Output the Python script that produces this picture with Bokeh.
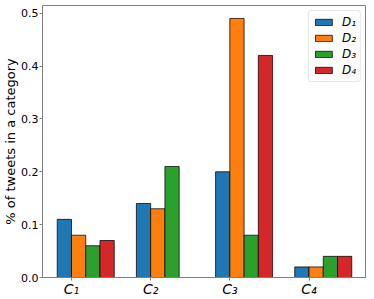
from bokeh.plotting import figure
from bokeh.models import ColumnDataSource, FixedTicker, Range1d, Legend, LegendItem
from bokeh.embed import file_html
from bokeh.resources import INLINE

categories = ["C\u2081", "C\u2082", "C\u2083", "C\u2084"]
series_names = ["D\u2081", "D\u2082", "D\u2083", "D\u2084"]
d1 = [0.11, 0.14, 0.20, 0.02]
d2 = [0.08, 0.13, 0.49, 0.02]
d3 = [0.06, 0.21, 0.08, 0.04]
d4 = [0.07, 0.00, 0.42, 0.04]
colors = ["#1f77b4", "#ff7f0e", "#2ca02c", "#d62728"]
y_ticks = [0.0, 0.1, 0.2, 0.3, 0.4, 0.5]

series = [d1, d2, d3, d4]
w = 0.18
xs = list(range(len(categories)))

p = figure(width=366, height=299, output_backend="svg", toolbar_location=None,
           x_range=Range1d(-0.366, 3.726), y_range=Range1d(0, 0.5145),
           min_border_left=28, min_border_right=0, min_border_top=5, min_border_bottom=0)

items = []
for k, (vals, name, col) in enumerate(zip(series, series_names, colors)):
    src = ColumnDataSource(dict(x=[x + (k - 0.5) * w for x in xs], top=vals))
    r = p.vbar(x="x", top="top", width=w, bottom=0, source=src, fill_color=col,
               line_color="black", line_alpha=0.75, line_width=1)
    items.append(LegendItem(label=name, renderers=[r]))

legend = Legend(items=items, location="top_right", label_text_font="DejaVu Sans",
                label_text_font_size="12px", label_text_font_style="italic",
                label_text_color="black", label_width=10,
                glyph_width=21, glyph_height=8, label_height=12, spacing=2,
                padding=4, margin=5, border_line_color="#d0d0d0", border_line_width=1,
                border_radius=3, label_standoff=8)
p.add_layout(legend)

p.xgrid.visible = False
p.ygrid.visible = False
p.outline_line_color = "#808080"
p.outline_line_width = 1

p.xaxis.ticker = FixedTicker(ticks=xs)
p.xaxis.major_label_overrides = {x: c for x, c in zip(xs, categories)}
p.xaxis.axis_label = None
p.xaxis.major_label_text_font = "DejaVu Sans"
p.xaxis.major_label_text_font_style = "italic"
p.xaxis.major_label_text_font_size = "14px"
p.xaxis.major_label_text_color = "black"
p.xaxis.major_label_standoff = 0
p.xaxis.major_tick_out = 3
p.xaxis.major_tick_in = 0
p.xaxis.major_tick_line_color = "#808080"
p.xaxis.minor_tick_line_color = None
p.xaxis.axis_line_color = "#808080"

p.yaxis.ticker = FixedTicker(ticks=y_ticks)
p.yaxis.major_label_overrides = {t: f"{t:.1f}" for t in y_ticks}
p.yaxis.axis_label = "% of tweets in a category"
p.yaxis.axis_label_text_font = "DejaVu Sans"
p.yaxis.axis_label_text_font_style = "normal"
p.yaxis.axis_label_text_font_size = "13px"
p.yaxis.axis_label_text_color = "black"
p.yaxis.axis_label_standoff = 0
p.yaxis.major_label_text_font = "DejaVu Sans"
p.yaxis.major_label_text_font_size = "11px"
p.yaxis.major_label_text_color = "black"
p.yaxis.major_label_standoff = 1
p.yaxis.major_tick_out = 3
p.yaxis.major_tick_in = 0
p.yaxis.major_tick_line_color = "#808080"
p.yaxis.minor_tick_line_color = None
p.yaxis.axis_line_color = "#808080"

open("out.html", "w").write(file_html(p, INLINE))
